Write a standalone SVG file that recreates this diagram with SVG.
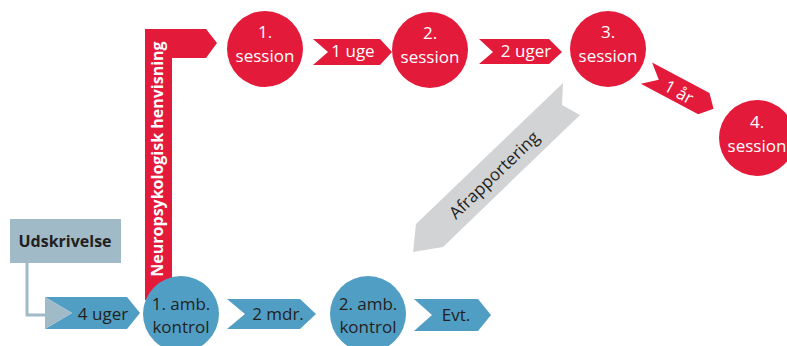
<svg xmlns="http://www.w3.org/2000/svg" width="787" height="346" viewBox="0 0 787 346">
<style>
text{font-family:"Open Sans","Noto Sans","Liberation Sans",sans-serif;font-size:17px;text-anchor:middle}
.red{fill:#e41a3b}
.blue{fill:#519ec4}
.grey{fill:#d2d3d5}
.pale{fill:#a0bac7}
.w{fill:#ffffff}
.d{fill:#231f20}
.b{font-weight:bold;font-size:16px}
</style>
<rect width="787" height="346" fill="#ffffff"/>
<g id="connectors">
  <path d="M27,263 V315 H46" fill="none" stroke="#a0bac7" stroke-width="3"/>
  <g id="c-4uger">
    <polygon class="blue" points="45,297 127,297 140,313 127,329 45,329 72,313"/>
    <polygon class="pale" points="45,297 72,313 45,329"/>
    <text class="d" x="103" y="320">4 uger</text>
  </g>
  <g id="c-henvisning">
    <polygon class="red" points="145,300 145,29 206,29 217,43 206,58 172,58 172,300"/>
    <text class="w b" transform="translate(163,159) rotate(-90)">Neuropsykologisk henvisning</text>
  </g>
  <g id="c-1uge">
    <polygon class="red" points="313,39 380,39 392,52 380,65 313,65 328,52"/>
    <text class="w" x="353" y="57">1 uge</text>
  </g>
  <g id="c-2uger">
    <polygon class="red" points="479,39 549,39 562,52 549,64 479,64 493,52"/>
    <text class="w" x="526" y="57">2 uger</text>
  </g>
  <g id="c-1aar">
    <polygon class="red" transform="translate(680,91) rotate(28)" points="-38,-12 27,-12 38,0 27,12 -38,12 -24,0"/>
    <text class="w" transform="translate(679,92) rotate(29)" y="6">1 år</text>
  </g>
  <g id="c-afrapportering">
    <polygon class="grey" points="563,83 562,105 580,115 443,247 413,252 416,224"/>
    <text class="d" transform="translate(494,175) rotate(-44)" y="6">Afrapportering</text>
  </g>
  <g id="c-2mdr">
    <polygon class="blue" points="227,299 300,299 316,314 300,329 227,329 245,314"/>
    <text class="d" x="278" y="320">2 mdr.</text>
  </g>
  <g id="c-evt">
    <polygon class="blue" points="414,299 478,299 491,315 478,331 414,331 432,315"/>
    <text class="d" x="456" y="321">Evt.</text>
  </g>
</g>
<g id="udskrivelse">
  <rect class="pale" x="10" y="219" width="111" height="44"/>
  <text class="d b" x="65" y="247">Udskrivelse</text>
</g>
<g id="amb1">
  <circle class="blue" cx="181" cy="314" r="38"/>
  <text class="d" x="181" y="310">1. amb.</text>
  <text class="d" x="181" y="333">kontrol</text>
</g>
<g id="amb2">
  <circle class="blue" cx="368" cy="314" r="38"/>
  <text class="d" x="368" y="310">2. amb.</text>
  <text class="d" x="368" y="333">kontrol</text>
</g>
<g id="session1">
  <circle class="red" cx="265" cy="49" r="38"/>
  <text class="w" x="265" y="38">1.</text>
  <text class="w" x="265" y="62">session</text>
</g>
<g id="session2">
  <circle class="red" cx="430" cy="50" r="38"/>
  <text class="w" x="430" y="39">2.</text>
  <text class="w" x="430" y="63">session</text>
</g>
<g id="session3">
  <circle class="red" cx="608" cy="49" r="38"/>
  <text class="w" x="608" y="38">3.</text>
  <text class="w" x="608" y="62">session</text>
</g>
<g id="session4">
  <circle class="red" cx="757" cy="138" r="38"/>
  <text class="w" x="757" y="128">4.</text>
  <text class="w" x="757" y="152">session</text>
</g>
</svg>
